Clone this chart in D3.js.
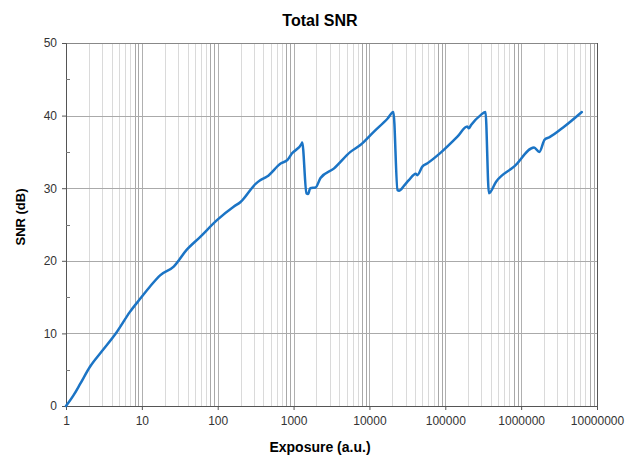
<!DOCTYPE html>
<html>
<meta charset='utf-8'>
<head>
<title>Total SNR</title>
<script src='https://d3js.org/d3.v7.min.js'></script>
<style>
body { margin: 0; background: #fff; }
text { font-family: 'Liberation Sans', Arial, sans-serif; }
</style>
</head>
<body>
<div id='chart'></div>
<script>
// exposure (a.u.) and total SNR (dB)
var exposure = [1, 1.26, 1.53, 2.07, 2.95, 4.68, 7.0, 9.55, 12.9, 17.4, 26.3, 38.9, 58.9, 97.7,
  162, 200, 316, 363, 447, 676, 832, 955, 1288, 1300, 1479, 1550, 1660, 1950, 2265, 3390,
  5620, 7590, 11480, 17380, 20700, 23440, 24550, 28840, 33110, 40740, 42660, 50120, 57540,
  87100, 144500, 195000, 204200, 218800, 295100, 338800, 375800, 467700, 812800, 1479000,
  1738000, 2042000, 2344000, 3715000, 6310000]
var snr = [0, 1.5, 3.0, 5.4, 7.5, 10.2, 13.0, 14.8, 16.5, 18.0, 19.2, 21.5, 23.3, 25.6,
  27.45, 28.1, 30.6, 31.1, 31.6, 33.4, 33.9, 34.8, 36.2, 36.3, 29.3, 29.2, 30.0, 30.1, 31.4, 32.7,
  35.0, 35.95, 37.8, 39.6, 40.5, 29.75, 29.65, 30.4, 31.1, 32.0, 31.8, 33.0, 33.4,
  34.9, 37.1, 38.5, 38.25, 38.7, 40.1, 40.5, 29.3, 30.9, 33.0, 35.6,
  35.0, 36.7, 37.0, 38.5, 40.5]
var xTicks = [1, 10, 100, 1000, 10000, 100000, 1000000, 10000000]
var yTicks = [0, 10, 20, 30, 40, 50]
var yMinor = [5, 15, 25, 35, 45]

var W = 626, H = 456
var margin = {top: 43, right: 29, bottom: 50, left: 66}
var w = W - margin.left - margin.right,
    h = H - margin.top - margin.bottom

var svg = d3.select('#chart').append('svg')
    .attr('width', W)
    .attr('height', H)
var g = svg.append('g')
    .attr('transform', 'translate(' + margin.left + ',' + margin.top + ')')

var x = d3.scaleLog().domain([1, 1e7]).range([0, w])
var y = d3.scaleLinear().domain([0, 50]).range([h, 0])

// minor vertical grid (2..9 in each decade)
var minor = []
for (var d = 0; d < 7; d++) {
  for (var m = 2; m <= 9; m++) minor.push(m * Math.pow(10, d))
}
g.append('g').selectAll('line')
  .data(minor)
  .enter().append('line')
    .attr('x1', function(v) { return Math.round(x(v)) + 0.5 })
    .attr('x2', function(v) { return Math.round(x(v)) + 0.5 })
    .attr('y1', 0).attr('y2', h)
    .attr('stroke', function(v) {
      var k = v / Math.pow(10, Math.floor(Math.log10(v) + 1e-9))
      return k >= 8 ? '#a8a8a8' : '#dadada'
    })
    .attr('stroke-width', 1)

// major vertical grid
g.append('g').selectAll('line')
  .data(xTicks.slice(1, -1))
  .enter().append('line')
    .attr('x1', function(v) { return Math.round(x(v)) + 0.5 })
    .attr('x2', function(v) { return Math.round(x(v)) + 0.5 })
    .attr('y1', 0).attr('y2', h)
    .attr('stroke', '#b0b0b0')

// horizontal grid
g.append('g').selectAll('line')
  .data(yTicks.slice(1))
  .enter().append('line')
    .attr('x1', 0).attr('x2', w)
    .attr('y1', function(v) { return Math.round(y(v)) + 0.5 })
    .attr('y2', function(v) { return Math.round(y(v)) + 0.5 })
    .attr('stroke', function(v) { return v === 50 ? '#888' : '#aaa' })

// right frame
g.append('line')
  .attr('x1', w + 0.5).attr('x2', w + 0.5)
  .attr('y1', 0).attr('y2', h)
  .attr('stroke', '#555')

// axes
var xAxis = g.append('g')
  .attr('transform', 'translate(0,' + h + ')')
  .call(d3.axisBottom(x).tickValues(xTicks).tickFormat(d3.format('d')).tickSize(4).tickPadding(6))
var yAxis = g.append('g')
  .call(d3.axisLeft(y).tickValues(yTicks).tickSize(4).tickPadding(5))
g.append('g').selectAll('line')
  .data(yMinor)
  .enter().append('line')
    .attr('x1', 0).attr('x2', 4)
    .attr('y1', function(v) { return Math.round(y(v)) + 0.5 })
    .attr('y2', function(v) { return Math.round(y(v)) + 0.5 })
    .attr('stroke', '#777')

svg.selectAll('.domain').attr('stroke', '#555')
svg.selectAll('.tick line').attr('stroke', '#555')
svg.selectAll('.tick text')
  .attr('font-size', 12)
  .attr('fill', '#333')
  .style('font-family', "'Liberation Sans', Arial, sans-serif")

// the curve
var line = d3.line()
  .x(function(d, i) { return x(exposure[i]) })
  .y(function(d) { return y(d) })
  .curve(d3.curveMonotoneX)

g.append('path')
  .datum(snr)
  .attr('d', line)
  .attr('fill', 'none')
  .attr('stroke', '#1b74c5')
  .attr('stroke-width', 2.5)
  .attr('stroke-linejoin', 'round')
  .attr('stroke-linecap', 'round')

// titles
svg.append('text')
  .attr('x', 320)
  .attr('y', 26)
  .attr('text-anchor', 'middle')
  .attr('font-size', 16)
  .attr('font-weight', 'bold')
  .text('Total SNR')
svg.append('text')
  .attr('x', 320)
  .attr('y', 452)
  .attr('text-anchor', 'middle')
  .attr('font-size', 14)
  .attr('font-weight', 'bold')
  .text('Exposure (a.u.)')
svg.append('text')
  .attr('transform', 'translate(25,217) rotate(-90)')
  .attr('text-anchor', 'middle')
  .attr('font-size', 13)
  .attr('font-weight', 'bold')
  .text('SNR (dB)')
</script>
</body>
</html>
